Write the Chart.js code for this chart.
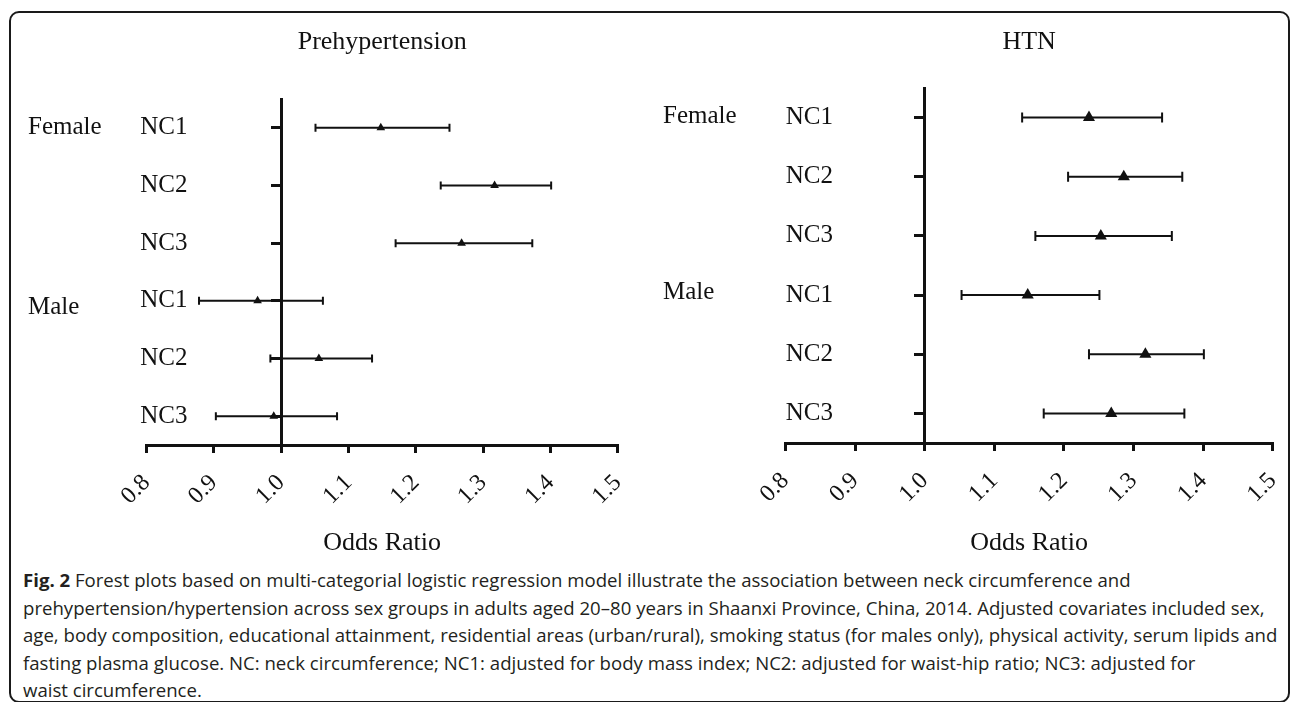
<!DOCTYPE html>
<html>
<head>
<meta charset="utf-8">
<title>Forest plots - neck circumference</title>
<script src="https://cdn.jsdelivr.net/npm/chart.js@4.4.1/dist/chart.umd.min.js"></script>
<style>
    body {
        margin: 0;
        background-color: #fff;
    }

    #page {
        position: relative;
        width: 1295px;
        height: 702px;
        overflow: hidden;
    }

    #frame {
        position: absolute;
        left: 9px;
        top: 11px;
        width: 1277px;
        height: 688px;
        border: 2px solid #1a1a1a;
        border-radius: 10px;
    }

    .plot {
        position: absolute;
        top: 0;
        height: 560px;
    }

    #caption {
        position: absolute;
        left: 23px;
        top: 566px;
        font-family: "Open Sans", "Noto Sans", sans-serif;
        font-size: 18.6px;
        line-height: 27.6px;
        color: #231f20;
        white-space: nowrap;
    }
</style>
</head>

<body>
<div id="page">
    <div id="frame"></div>
    <div class="plot" style="left:0; width:647px;"><canvas id="preChart"></canvas></div>
    <div class="plot" style="left:647px; width:648px;"><canvas id="htnChart"></canvas></div>
    <div id="caption">
        <b>Fig. 2</b> Forest plots based on multi-categorial logistic regression model illustrate the association between neck circumference and<br>
        prehypertension/hypertension across sex groups in adults aged 20–80 years in Shaanxi Province, China, 2014. Adjusted covariates included sex,<br>
        age, body composition, educational attainment, residential areas (urban/rural), smoking status (for males only), physical activity, serum lipids and<br>
        fasting plasma glucose. NC: neck circumference; NC1: adjusted for body mass index; NC2: adjusted for waist-hip ratio; NC3: adjusted for<br>
        waist circumference.
    </div>
</div>

<script>
    // rows, top to bottom
    const rowLabels = ['NC1', 'NC2', 'NC3', 'NC1', 'NC2', 'NC3'];
    const groupLabels = ['Female', 'Male'];
    const groupRows = [0, 3];

    const xTickValues = [0.8, 0.9, 1.0, 1.1, 1.2, 1.3, 1.4, 1.5];
    const xTickLabels = ['0.8', '0.9', '1.0', '1.1', '1.2', '1.3', '1.4', '1.5'];

    // Prehypertension: odds ratio and 95% CI
    const preOR = [1.148, 1.317, 1.268, 0.965, 1.056, 0.989];
    const preLow = [1.051, 1.237, 1.170, 0.878, 0.984, 0.903];
    const preHigh = [1.250, 1.401, 1.373, 1.062, 1.135, 1.083];

    // HTN: odds ratio and 95% CI
    const htnOR = [1.236, 1.286, 1.253, 1.148, 1.317, 1.268];
    const htnLow = [1.140, 1.206, 1.159, 1.053, 1.236, 1.171];
    const htnHigh = [1.341, 1.370, 1.355, 1.251, 1.401, 1.373];

    const serif = '"Liberation Serif", "Times New Roman", serif';
    const CANVAS_H = 560;

    // error bars, row labels and panel title
    function forestPlugin(cfg) {
        return {
            id: 'forest',
            beforeDatasetsDraw(chart) {
                const ctx = chart.ctx;
                const xs = chart.scales.x, ys = chart.scales.y;
                ctx.save();
                ctx.strokeStyle = '#111';
                ctx.lineWidth = 2;
                for (let i = 0; i < cfg.low.length; i++) {
                    const x1 = xs.getPixelForValue(cfg.low[i]);
                    const x2 = xs.getPixelForValue(cfg.high[i]);
                    const y = ys.getPixelForValue(i);
                    ctx.beginPath();
                    ctx.moveTo(x1, y);
                    ctx.lineTo(x2, y);
                    ctx.moveTo(x1, y - cfg.cap);
                    ctx.lineTo(x1, y + cfg.cap);
                    ctx.moveTo(x2, y - cfg.cap);
                    ctx.lineTo(x2, y + cfg.cap);
                    ctx.stroke();
                }
                ctx.restore();
            },
            afterDraw(chart) {
                const ctx = chart.ctx;
                const xs = chart.scales.x, ys = chart.scales.y;
                const lineX = xs.getPixelForValue(1.0);
                ctx.save();
                ctx.fillStyle = '#111';
                ctx.textBaseline = 'middle';
                ctx.font = '25px ' + serif;
                ctx.textAlign = 'left';
                for (let i = 0; i < rowLabels.length; i++) {
                    ctx.fillText(rowLabels[i], lineX - cfg.rowLabelOffset, ys.getPixelForValue(i));
                }
                for (let g = 0; g < groupLabels.length; g++) {
                    ctx.fillText(groupLabels[g], cfg.groupX, ys.getPixelForValue(groupRows[g]) + cfg.groupDy[g]);
                }
                ctx.font = '26px ' + serif;
                ctx.textAlign = 'center';
                const area = chart.chartArea;
                ctx.fillText(cfg.title, (area.left + area.right) / 2, cfg.titleY);
                ctx.restore();
            }
        };
    }

    function makeChart(id, cfg) {
        const axisH = CANVAS_H - 1 - cfg.bottom;
        const points = cfg.or.map((v, i) => ({ x: v, y: i }));
        return new Chart(document.getElementById(id), {
            type: 'scatter',
            data: {
                datasets: [{
                    data: points,
                    pointStyle: 'triangle',
                    pointRadius: cfg.radius,
                    pointHoverRadius: cfg.radius,
                    backgroundColor: '#111',
                    borderColor: '#111',
                    borderWidth: 0
                }]
            },
            options: {
                responsive: true,
                maintainAspectRatio: false,
                animation: false,
                layout: {
                    padding: { left: cfg.left, right: cfg.right, top: cfg.top, bottom: 1 }
                },
                plugins: {
                    legend: { display: false },
                    tooltip: { enabled: false }
                },
                scales: {
                    x: {
                        type: 'linear',
                        min: 0.8,
                        max: 1.5,
                        afterBuildTicks: s => { s.ticks = xTickValues.map(v => ({ value: v })); },
                        afterFit: s => {
                            s.height = axisH;
                            s.paddingLeft = 0;
                            s.paddingRight = 0;
                        },
                        grid: {
                            drawOnChartArea: false,
                            tickLength: 8,
                            lineWidth: 3,
                            color: '#111'
                        },
                        border: { display: true, width: 3, color: '#111' },
                        ticks: {
                            callback: (v, i) => xTickLabels[i],
                            autoSkip: false,
                            minRotation: 45,
                            maxRotation: 45,
                            padding: 16,
                            color: '#111',
                            font: { family: serif, size: 24 }
                        },
                        title: {
                            display: true,
                            text: 'Odds Ratio',
                            color: '#111',
                            padding: 0,
                            font: { family: serif, size: 26 }
                        }
                    },
                    y: {
                        type: 'category',
                        labels: rowLabels,
                        offset: true,
                        position: { x: 1.0 },
                        afterFit: s => {
                            s.paddingTop = 0;
                            s.paddingBottom = 0;
                        },
                        grid: {
                            drawOnChartArea: false,
                            offset: false,
                            tickLength: 9,
                            lineWidth: 3,
                            color: '#111'
                        },
                        border: { display: true, width: 3, color: '#111' },
                        ticks: { display: false }
                    }
                }
            },
            plugins: [forestPlugin(cfg)]
        });
    }

    makeChart('preChart', {
        title: 'Prehypertension', or: preOR, low: preLow, high: preHigh,
        left: 146.5, right: 29.2, top: 99, bottom: 445,
        radius: 5, cap: 4, titleY: 42,
        rowLabelOffset: 141, groupX: 28, groupDy: [0, 7]
    });

    makeChart('htnChart', {
        title: 'HTN', or: htnOR, low: htnLow, high: htnHigh,
        left: 138.4, right: 22.2, top: 88, bottom: 443,
        radius: 7, cap: 5, titleY: 42,
        rowLabelOffset: 139, groupX: 16, groupDy: [-1, -3]
    });
</script>
</body>

</html>
